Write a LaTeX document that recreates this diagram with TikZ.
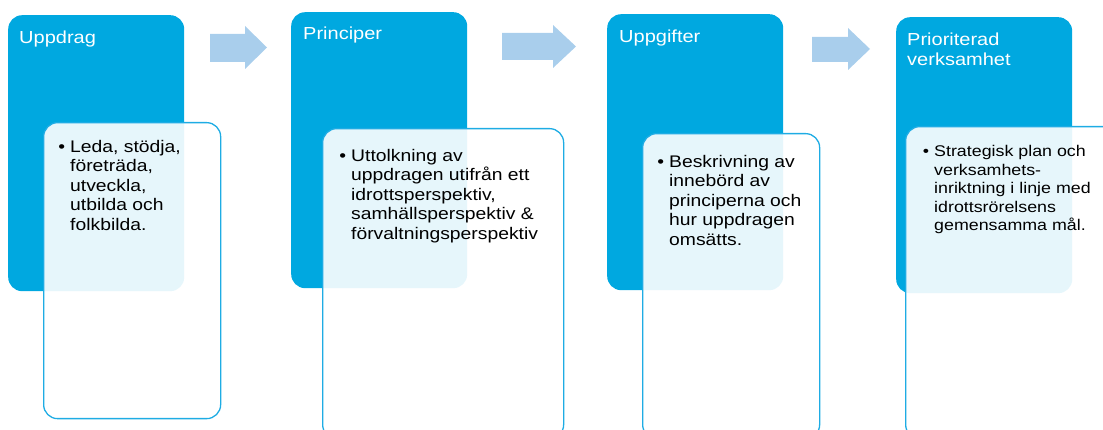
\documentclass[tikz,border=0pt]{standalone}
\usepackage{fontspec}
\setmainfont{Liberation Sans}[FakeStretch=1.15]
\usepackage{xcolor}
\usepackage{tikz}
\usetikzlibrary{positioning}

\definecolor{stepblue}{RGB}{0,168,224}
\definecolor{arrowblue}{RGB}{169,206,236}
\definecolor{lineblue}{RGB}{30,172,228}

\tikzset{
  headbox/.style={rectangle, rounded corners=14pt, fill=stepblue, inner sep=0pt,
    minimum width=176pt, minimum height=276pt, anchor=north west},
  notebox/.style={rectangle, rounded corners=14pt, draw=lineblue, line width=1.3pt,
    fill=white, fill opacity=0.9, inner sep=0pt, anchor=north west},
  headtext/.style={inner sep=0pt, align=left, text=white,
    font=\fontsize{17.4}{20}\selectfont},
  notetext/.style={inner sep=0pt, align=left,
    font=\fontsize{16.8}{19.5}\selectfont},
  blockarrow/.style={fill=arrowblue},
}
\newcommand{\itembullet}{\llap{\textbullet\hspace{5pt}}}

\begin{document}
\begin{tikzpicture}[x=1pt, y=1pt]
  \clip (0,0) rectangle (1103,430);

  % blue headers
  \node[headbox] (b1) at (8,415) {};
  \node[headbox] (b2) at (291,418) {};
  \node[headbox] (b3) at (607,416) {};
  \node[headbox] (b4) at (896,413) {};

  \node[headtext, below right=15.3pt and 11pt of b1.north west] (t1) {Uppdrag};
  \node[headtext, below right=14.3pt and 12pt of b2.north west] (t2) {Principer};
  \node[headtext, below right=15.3pt and 12pt of b3.north west] (t3) {Uppgifter};
  \node[headtext, below right=15.3pt and 11pt of b4.north west] (t4) {Prioriterad\\verksamhet};

  % arrows between the steps
  \fill[blockarrow] (210,368) -- (245,368) -- (245,361) -- (267,382.5)
    -- (245,404) -- (245,396) -- (210,396) -- cycle;
  \fill[blockarrow] (502,370) -- (553,370) -- (553,362) -- (576,383.5)
    -- (553,405) -- (553,397) -- (502,397) -- cycle;
  \fill[blockarrow] (812,368) -- (848,368) -- (848,360) -- (870,381)
    -- (848,402) -- (848,393) -- (812,393) -- cycle;

  % white boxes
  \node[notebox, minimum width=177pt, minimum height=296pt] (w1) at (43,308) {};
  \node[notebox, minimum width=241pt, minimum height=310pt] (w2) at (322,302) {};
  \node[notebox, minimum width=177pt, minimum height=305pt] (w3) at (642,297) {};
  \node[notebox, minimum width=220pt, minimum height=312pt] (w4) at (905,304) {};

  \node[notetext, below right=18pt and 27pt of w1.north west] (n1)
    {\itembullet Leda, stödja,\\företräda,\\utveckla,\\utbilda och\\folkbilda.};
  \node[notetext, below right=21pt and 29pt of w2.north west] (n2)
    {\itembullet Uttolkning av\\uppdragen utifrån ett\\idrottsperspektiv,\\samhällsperspektiv \&\\förvaltningsperspektiv};
  \node[notetext, below right=22pt and 27pt of w3.north west] (n3)
    {\itembullet Beskrivning av\\innebörd av\\principerna och\\hur uppdragen\\omsätts.};
  \node[notetext, font=\fontsize{15.5}{18.6}\selectfont,
    below right=19pt and 29pt of w4.north west] (n4)
    {\itembullet Strategisk plan och\\verksamhets-\\inriktning i linje med\\idrottsrörelsens\\gemensamma mål.};
\end{tikzpicture}
\end{document}
